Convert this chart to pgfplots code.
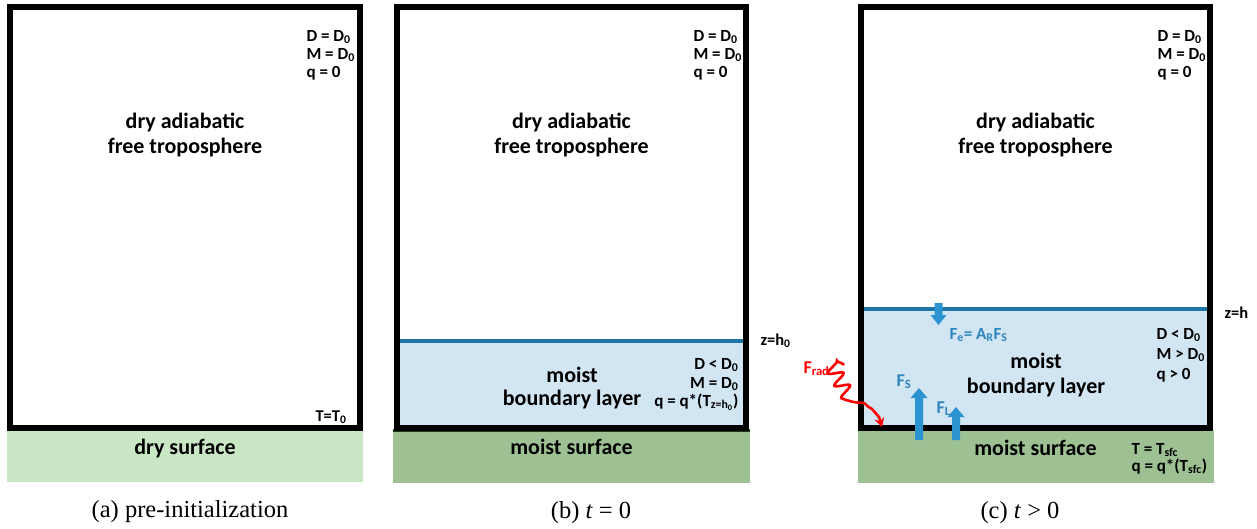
\documentclass[border=0pt]{standalone}
\usepackage{fontspec}
\setmainfont{Carlito}
\newfontfamily\capfont{Liberation Serif}
\usepackage{pgfplots}
\pgfplotsset{compat=1.18}
\usetikzlibrary{arrows.meta,decorations.pathmorphing}
\definecolor{drygreen}{HTML}{C9E7C5}
\definecolor{moistgreen}{HTML}{9EC194}
\definecolor{blfill}{HTML}{D1E5F3}
\definecolor{blline}{HTML}{1F75A5}
\definecolor{arrowblue}{HTML}{2A93D0}
\definecolor{fluxtext}{HTML}{2E86BC}
\definecolor{darkline}{HTML}{1B3A18}
\newcommand{\sml}{\fontsize{17}{18}\selectfont\bfseries}
\newcommand{\flx}{\fontsize{18}{19}\selectfont\bfseries}
\newcommand{\tny}{\fontsize{16.5}{17}\selectfont\bfseries}
\newcommand{\lrg}{\fontsize{22}{24}\selectfont\bfseries}
\newcommand{\capsz}{\capfont\fontsize{24.5}{27}\selectfont}
\begin{document}
\begin{tikzpicture}
\begin{axis}[x=1pt,y=1pt,xmin=0,xmax=1257,ymin=0,ymax=528,y dir=reverse,
  hide axis,clip=false,scale only axis,
  every node/.style={inner sep=0pt}]
\addplot[draw=none] coordinates {(0,0) (1257,528)};
% surfaces
\addplot[fill=drygreen,draw=none] coordinates {(7,431) (363,431) (363,482) (7,482)} -- cycle;
\addplot[fill=moistgreen,draw=none] coordinates {(393,431) (750,431) (750,483) (393,483)} -- cycle;
\addplot[fill=moistgreen,draw=none] coordinates {(858,431) (1214,431) (1214,483) (858,483)} -- cycle;
\addplot[darkline,line width=2.5pt] coordinates {(393,430.5) (750,430.5)};
% boundary layers
\addplot[fill=blfill,draw=none] coordinates {(397,341) (746,341) (746,428) (397,428)} -- cycle;
\addplot[fill=blfill,draw=none] coordinates {(861,309) (1210,309) (1210,428) (861,428)} -- cycle;
\addplot[blline,line width=3.5pt] coordinates {(397,341) (746,341)};
\addplot[blline,line width=3.5pt] coordinates {(861,309) (1210,309)};
% boxes
\addplot[black,line width=6pt] coordinates {(10,7) (360,7) (360,428) (10,428)} -- cycle;
\addplot[black,line width=6pt] coordinates {(397,7) (746,7) (746,428) (397,428)} -- cycle;
\addplot[black,line width=6pt] coordinates {(861,7) (1210,7) (1210,428) (861,428)} -- cycle;
% flux arrows
\addplot[fill=arrowblue,draw=none] coordinates {(915,440) (923,440) (923,398) (927.5,398) (919,388) (910.5,398) (915,398)} -- cycle;
\addplot[fill=arrowblue,draw=none] coordinates {(952,440) (960,440) (960,417) (964.5,417) (956,407) (947.5,417) (952,417)} -- cycle;
\addplot[fill=arrowblue,draw=none] coordinates {(934.5,303) (942.5,303) (942.5,315) (946.5,315) (938.5,325) (930.5,315) (934.5,315)} -- cycle;
% radiation
\addplot[red,line width=2.6pt,smooth,decorate,
  decoration={snake,amplitude=7pt,segment length=14pt,post length=26pt},
  -{Stealth[length=9pt,width=10pt]}]
  coordinates {(844,365) (864,402) (872,409) (879,417) (882,427)};
% top labels
\pgfplotsinvokeforeach{303,690,1154}{
  \node[anchor=base west,font=\sml] at (axis cs:#1,41) {D = D\textsubscript{0}};
  \node[anchor=base west,font=\sml] at (axis cs:#1,59) {M = D\textsubscript{0}};
  \node[anchor=base west,font=\sml] at (axis cs:#1,77) {q = 0};
}
\pgfplotsinvokeforeach{185,571.5,1035.5}{
  \node[anchor=base,font=\lrg] at (axis cs:#1,128) {dry adiabatic};
  \node[anchor=base,font=\lrg] at (axis cs:#1,153) {free troposphere};
}
% panel a
\node[anchor=base east,font=\tny] at (axis cs:350,421) {T=T\textsubscript{0}};
\node[anchor=base,font=\lrg] at (axis cs:185,454) {dry surface};
% panel b
\node[anchor=base west,font=\tny] at (axis cs:757,345) {z=h\textsubscript{0}};
\node[anchor=base,font=\lrg] at (axis cs:572,382) {moist};
\node[anchor=base,font=\lrg] at (axis cs:572,405) {boundary layer};
\node[anchor=base east,font=\sml] at (axis cs:742,369) {D {\textless} D\textsubscript{0}};
\node[anchor=base east,font=\sml] at (axis cs:742,388) {M = D\textsubscript{0}};
\node[anchor=base east,font=\sml] at (axis cs:742,406) {q = q*(T\textsubscript{z=h\textsubscript{0}})};
\node[anchor=base,font=\lrg] at (axis cs:571.5,454) {moist surface};
% panel c
\node[anchor=base west,font=\tny] at (axis cs:1221,318) {z=h};
\node[anchor=base,font=\lrg] at (axis cs:1036,368) {moist};
\node[anchor=base,font=\lrg] at (axis cs:1036,393) {boundary layer};
\node[anchor=base west,font=\sml] at (axis cs:1153,339) {D {\textless} D\textsubscript{0}};
\node[anchor=base west,font=\sml] at (axis cs:1153,359) {M {\textgreater} D\textsubscript{0}};
\node[anchor=base west,font=\sml] at (axis cs:1153,379) {q {\textgreater} 0};
\node[anchor=base,font=\lrg] at (axis cs:1035.5,455) {moist surface};
\node[anchor=base west,font=\sml] at (axis cs:1128,454) {T = T\textsubscript{sfc}};
\node[anchor=base west,font=\sml] at (axis cs:1128,471) {q = q*(T\textsubscript{sfc})};
\node[anchor=base west,font=\sml,text=fluxtext] at (axis cs:946,339) {F\textsubscript{e}= A\textsubscript{R}F\textsubscript{S}};
\node[anchor=base west,font=\flx,text=fluxtext] at (axis cs:893,386) {F\textsubscript{S}};
\node[anchor=base west,font=\flx,text=fluxtext] at (axis cs:933,413) {F\textsubscript{L}};
\node[anchor=base west,font=\flx,text=red] at (axis cs:800,373) {F\textsubscript{rad}};
% captions
\node[anchor=base,font=\capsz] at (axis cs:190,517) {(a) pre-initialization};
\node[anchor=base,font=\capsz] at (axis cs:591,518) {(b) \textit{t} = 0};
\node[anchor=base,font=\capsz] at (axis cs:1020,518) {(c) \textit{t} {\textgreater} 0};
\end{axis}
\end{tikzpicture}
\end{document}
